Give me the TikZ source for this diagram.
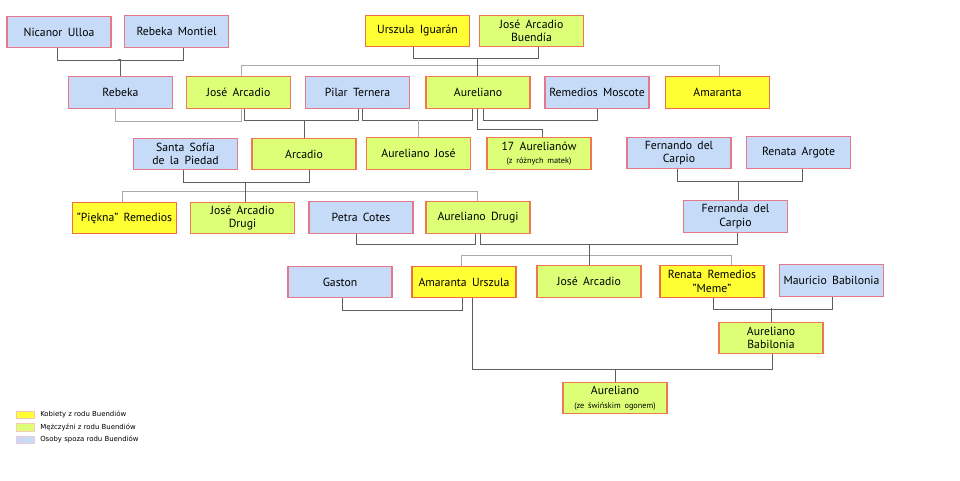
\documentclass[tikz,border=0pt]{standalone}
\usepackage{fontspec}
\setmainfont{PT Sans}[WordSpace=1.7]
\newfontfamily\legendfont{DejaVu Sans}
\usetikzlibrary{calc}

\definecolor{kobFill}{RGB}{255,255,51}
\definecolor{kobDraw}{RGB}{240,110,70}
\definecolor{mezFill}{RGB}{221,255,119}
\definecolor{mezDraw}{RGB}{240,120,80}
\definecolor{obcFill}{RGB}{197,219,248}
\definecolor{obcDraw}{RGB}{230,120,140}
\definecolor{paraLine}{RGB}{95,95,95}
\definecolor{rodLine}{RGB}{170,170,170}

\tikzset{
  osoba/.style={rectangle, minimum width=78pt, minimum height=23.5pt, inner sep=1pt,
    align=center, line width=0.8pt, font=\fontsize{8.8}{10.2}\selectfont},
  kobieta/.style={osoba, fill=kobFill, draw=kobDraw},
  mezczyzna/.style={osoba, fill=mezFill, draw=mezDraw},
  obcy/.style={osoba, fill=obcFill, draw=obcDraw},
  para/.style={draw=paraLine, line width=0.75pt},
  rodzenstwo/.style={draw=rodLine, line width=0.75pt},
  legenda/.style={rectangle, minimum width=13.5pt, minimum height=5.5pt, inner sep=0pt, line width=0.2pt},
  legtekst/.style={anchor=west, inner sep=0pt, font=\legendfont\fontsize{5.2}{6}\selectfont}
}
\newcommand{\maly}[1]{{\fontsize{6.2}{7}\selectfont #1}}

\begin{document}
\begin{tikzpicture}[x=0.75pt,y=0.75pt,yscale=-1,xscale=1]
\path (0,0);\path (960,480);
%Row 1
\node[obcy] (nicanor) at (59,32) {Nicanor Ulloa};
\node[obcy] (rmontiel) at (176.5,31.5) {Rebeka Montiel};
\node[kobieta] (urszula) at (417.5,31) {Urszula Iguarán};
\node[mezczyzna] (jab) at (531.5,31) {José Arcadio\\Buendía};
%Row 2
\node[obcy] (rebeka) at (120.5,92.5) {Rebeka};
\node[mezczyzna] (jarcadio) at (238.5,92.5) {José Arcadio};
\node[obcy] (pilar) at (357.5,92.5) {Pilar Ternera};
\node[mezczyzna] (aureliano) at (478,92.5) {Aureliano};
\node[obcy] (remedios) at (597,92.5) {Remedios Moscote};
\node[kobieta] (amaranta) at (717.5,92.5) {Amaranta};
%Row 3
\node[obcy] (sofia) at (185.5,154) {Santa Sofía\\de la Piedad};
\node[mezczyzna] (arcadio) at (304,154) {Arcadio};
\node[mezczyzna] (aurjose) at (418.5,153.5) {Aureliano José};
\node[mezczyzna] (aur17) at (539,153.5) {17 Aurelianów\\\maly{(z różnych matek)}};
\node[obcy] (fernando) at (679,153) {Fernando del\\Carpio};
\node[obcy] (renata) at (798.5,152.5) {Renata Argote};
%Row 4
\node[kobieta] (piekna) at (124.5,218) {"Piękna" Remedios};
\node[mezczyzna] (jad) at (242.5,218) {José Arcadio\\Drugi};
\node[obcy] (petra) at (361,217.5) {Petra Cotes};
\node[mezczyzna] (aurdrugi) at (478,217.5) {Aureliano Drugi};
\node[obcy] (fernanda) at (735.5,216.5) {Fernanda del\\Carpio};
%Row 5
\node[obcy] (gaston) at (340,282) {Gaston};
\node[kobieta] (amurszula) at (464,282) {Amaranta Urszula};
\node[mezczyzna] (jarcadio2) at (589,281.5) {José Arcadio};
\node[kobieta] (meme) at (712,281.5) {Renata Remedios\\"Meme"};
\node[obcy] (mauricio) at (831.5,280.5) {Mauricio Babilonia};
\node[mezczyzna] (aurbab) at (771,338) {Aureliano\\Babilonia};
\node[mezczyzna] (aurpig) at (615,398) {Aureliano\\\maly{(ze świńskim ogonem)}};

%Lines: Nicanor + Rebeka Montiel
\draw[para] ($(nicanor.south)+(-2,0)$) -- ++(0,12) -| ($(rmontiel.south)+(6.5,0)$);
\coordinate (nr) at ($(nicanor.south)!0.5!(rmontiel.south)+(0,12)$);
\draw[para] (rebeka.north) |- (nr);
%Lines: Urszula + Jose Arcadio Buendia
\draw[para] ($(urszula.south)+(-4.5,0)$) -- ++(0,11) -| ($(jab.south)+(6.5,0)$);
\coordinate (uj) at ($(urszula.south)!0.5!(jab.south)+(0,11)$);
\draw[rodzenstwo] ($(jarcadio.north)+(2.5,0)$) -- ++(0,-11) -| ($(amaranta.north)+(1.5,0)$);
\draw[para] ($(aureliano.north)+(-1,0)$) |- (uj);
%Lines: row 2
\draw[rodzenstwo] ($(rebeka.south)+(-5.5,0)$) -- ++(0,13) -| ($(jarcadio.south)+(2.5,0)$);
\draw[para] ($(jarcadio.south)+(5.5,0)$) -- ++(0,12) -| ($(pilar.south)+(0.5,0)$);
\coordinate (jp) at ($(jarcadio.south)!0.5!(pilar.south)+(0,12)$);
\draw[para] (arcadio.north) |- (jp);
\draw[para] ($(pilar.south)+(4.5,0)$) -- ++(0,12) -| ($(aureliano.south)+(-6,0)$);
\coordinate (pa) at ($(pilar.south)!0.5!(aureliano.south)+(0,12)$);
\draw[rodzenstwo] (aurjose.north) |- (pa);
\draw[para] ($(aureliano.south)+(5,0)$) -- ++(0,12) -| (remedios.south);
\draw[para] ($(aureliano.south)+(-1,0)$) -- ++(0,21) -| ($(aur17.north)+(3,0)$);
%Lines: row 3
\draw[para] ($(sofia.south)+(-2.5,0)$) -- ++(0,12) -| ($(arcadio.south)+(5,0)$);
\coordinate (sa) at ($(sofia.south)!0.5!(arcadio.south)+(1,12)$);
\draw[rodzenstwo] ($(piekna.north)+(-2.5,0)$) -- ++(0,-10) -| ($(aurdrugi.north)+(-1,0)$);
\draw[para] (sa) -- (sa |- jad.north);
\draw[para] ($(fernando.south)+(-2,0)$) -- ++(0,12) -| ($(renata.south)+(3.5,0)$);
\coordinate (fr) at ($(fernando.south)!0.5!(renata.south)+(0,12)$);
\draw[para] (fr) -- (fr |- fernanda.north);
%Lines: row 4
\draw[para] ($(petra.south)+(-5,0)$) -- ++(0,11) -| ($(aurdrugi.south)+(-3,0)$);
\draw[para] ($(aurdrugi.south)+(2,0)$) -- ++(0,11) -| ($(fernanda.south)+(1.5,0)$);
\coordinate (af) at ($(aurdrugi.south)!0.5!(fernanda.south)+(0,11)$);
\draw[rodzenstwo] ($(amurszula.north)+(-3,0)$) -- ++(0,-10) -| ($(meme.north)+(19,0)$);
\draw[para] (jarcadio2.north) |- (af);
%Lines: row 5
\draw[para] ($(gaston.south)+(2,0)$) -- ++(0,12) -| ($(amurszula.south)+(-2,0)$);
\draw[para] ($(meme.south)+(1,0)$) -- ++(0,11.5) -| ($(mauricio.south)+(0.5,0)$);
\coordinate (mm) at ($(meme.south)!0.5!(mauricio.south)+(0,11.5)$);
\draw[para] (aurbab.north) |- (mm);
\draw[para] ($(amurszula.south)+(8,0)$) -- ++(0,71) -| ($(aurbab.south)+(1,0)$);
\coordinate (ab) at ($(amurszula.south)+(8,71)$);
\draw[para] (aurpig.north) |- (ab);

%Legend
\node[legenda, fill=kobFill, draw=kobDraw!40] (lk) at (25,414.5) {};
\node[legenda, fill=mezFill, draw=mezDraw!40] (lm) at (25,427) {};
\node[legenda, fill=obcFill, draw=obcDraw!40] (lo) at (25,439.5) {};
\node[legtekst] (tk) at (40,414.5) {Kobiety z rodu Buendiów};
\node[legtekst] (tm) at (40,427) {Mężczyźni z rodu Buendiów};
\node[legtekst] (to) at (40,439.5) {Osoby spoza rodu Buendiów};
\end{tikzpicture}
\end{document}
